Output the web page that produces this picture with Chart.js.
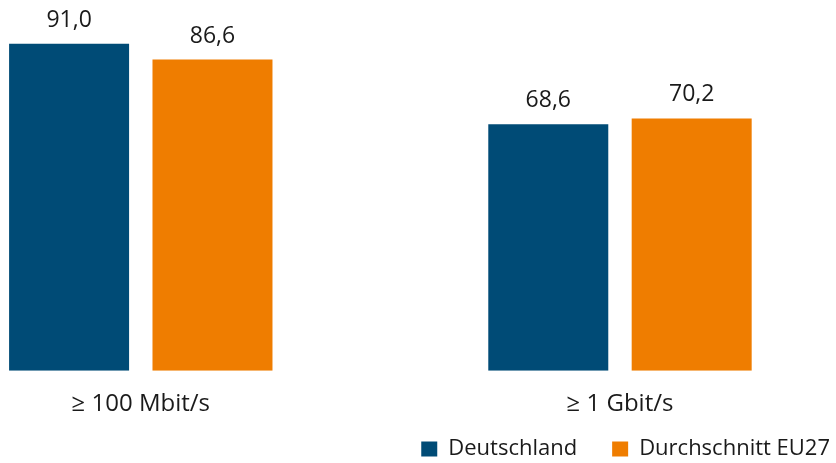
<!DOCTYPE html>
<html>
<head>
<meta charset="utf-8">
<script src="https://cdn.jsdelivr.net/npm/chart.js@4/dist/chart.umd.min.js"></script>
<style>
  html, body { margin: 0; padding: 0; background: #ffffff; }
  #wrap { width: 836px; height: 463px; }
</style>
</head>
<body>
<div id="wrap"><canvas id="c" width="836" height="463"></canvas></div>
<script>
const categories = ['≥ 100 Mbit/s', '≥ 1 Gbit/s'];
const seriesNames = ['Deutschland', 'Durchschnitt EU27'];
const deutschland = [91.0, 68.6];
const durchschnittEU27 = [86.6, 70.2];
const seriesColors = ['#004B76', '#EF7D00'];

const FONT = '"Open Sans", "Noto Sans", sans-serif';
const TEXT = '#1a1a1a';

const toPoints = (vals) => vals.map((v, i) => ({ x: i, y: v }));
const fmt = (v) => v.toFixed(1).replace('.', ',');

const valueLabels = {
  id: 'valueLabels',
  afterDatasetsDraw(chart) {
    const ctx = chart.ctx;
    ctx.save();
    ctx.font = '23px ' + FONT;
    ctx.fillStyle = TEXT;
    ctx.textAlign = 'center';
    ctx.textBaseline = 'alphabetic';
    chart.data.datasets.forEach((ds, di) => {
      const meta = chart.getDatasetMeta(di);
      meta.data.forEach((bar, i) => {
        ctx.fillText(fmt(ds.data[i].y), bar.x, bar.y - 17);
      });
    });
    ctx.restore();
  }
};

new Chart(document.getElementById('c'), {
  type: 'bar',
  data: {
    datasets: [
      { label: seriesNames[0], data: toPoints(deutschland), backgroundColor: seriesColors[0], borderWidth: 0 },
      { label: seriesNames[1], data: toPoints(durchschnittEU27), backgroundColor: seriesColors[1], borderWidth: 0 }
    ]
  },
  options: {
    responsive: false,
    animation: false,
    categoryPercentage: 0.5985,
    barPercentage: 0.8368,
    layout: { padding: { left: 0, right: -29, top: 0, bottom: -7 } },
    plugins: {
      legend: {
        position: 'bottom',
        align: 'end',
        labels: {
          boxWidth: 16,
          boxHeight: 15,
          padding: 35,
          color: TEXT,
          font: { family: FONT, size: 22 }
        }
      },
      tooltip: { enabled: false }
    },
    scales: {
      x: {
        type: 'linear',
        offset: false,
        min: -0.2938,
        max: 1.4508,
        afterBuildTicks: (s) => { s.ticks = categories.map((c, i) => ({ value: i })); },
        afterFit: (s) => { s.height = 32.3; },
        grid: { display: false, drawTicks: false },
        border: { display: false },
        ticks: {
          mirror: true,
          padding: -47.7,
          color: TEXT,
          font: { family: FONT, size: 24 },
          maxRotation: 0,
          autoSkip: false,
          callback: (v) => categories[v]
        }
      },
      y: {
        display: false,
        min: 0,
        max: 103.17
      }
    }
  },
  plugins: [valueLabels]
});
</script>
</body>
</html>
